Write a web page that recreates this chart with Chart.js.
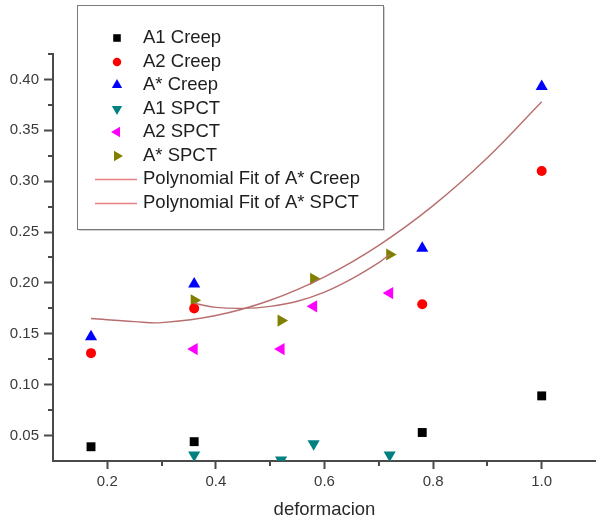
<!DOCTYPE html>
<html>
<head>
<meta charset="utf-8">
<script src="https://cdn.jsdelivr.net/npm/chart.js@4.4.0/dist/chart.umd.min.js"></script>
<style>
    html, body { margin: 0; padding: 0; background: #fff; }
    #wrap { width: 596px; height: 521px; }
</style>
</head>
<body>
<div id="wrap"><canvas id="js-chart" width="596" height="521"></canvas></div>
<script>
// creep samples
const creepX = [0.17, 0.36, 0.78, 1.0];
const a1Creep = [0.039, 0.044, 0.053, 0.089];
const a2Creep = [0.131, 0.175, 0.179, 0.310];
const aStarCreep = [0.147, 0.199, 0.234, 0.393];

// SPCT samples
const spctX = [0.36, 0.52, 0.58, 0.72];
const a1Spct = [0.031, 0.026, 0.042, 0.031];
const a2Spct = [0.135, 0.135, 0.177, 0.190];
const aStarSpct = [0.183, 0.163, 0.204, 0.228];

// fit curves
const fitCreepX = [0.17, 0.25, 0.30, 0.40, 0.50, 0.60, 0.70, 0.80, 0.90, 1.00];
const fitCreepY = [0.165, 0.162, 0.161, 0.168, 0.183, 0.206, 0.237, 0.276, 0.323, 0.378];
const fitSpctX = [0.36, 0.40, 0.45, 0.50, 0.55, 0.60, 0.65, 0.70, 0.72];
const fitSpctY = [0.180, 0.176, 0.175, 0.177, 0.182, 0.191, 0.204, 0.220, 0.228];

// axes
const xTicks = [0.2, 0.4, 0.6, 0.8, 1.0];
const xMinorTicks = [0.3, 0.5, 0.7, 0.9];
const yTicks = [0.05, 0.10, 0.15, 0.20, 0.25, 0.30, 0.35, 0.40];
const yMinorTicks = [0.075, 0.125, 0.175, 0.225, 0.275, 0.325, 0.375, 0.425];

const axisColor = "#4a4a4a";
const fitColor = "rgb(185, 110, 110)";
const fontFamily = '"Liberation Sans", Arial, sans-serif';

function toPoints(xs, ys) {
    var pts = [];
    for (var i = 0; i < xs.length; i++) {
        pts.push({ x: xs[i], y: ys[i] });
    }
    return pts;
}

function markers(label, xs, ys, color, style, rotation, radius) {
    return {
        label: label,
        data: toPoints(xs, ys),
        pointStyle: style,
        pointRotation: rotation,
        pointRadius: radius,
        pointBackgroundColor: color,
        pointBorderColor: color,
        pointBorderWidth: 0,
        backgroundColor: color,
        showLine: false,
        order: 2
    };
}

function fitLine(label, xs, ys) {
    return {
        label: label,
        data: toPoints(xs, ys),
        showLine: true,
        pointRadius: 0,
        borderColor: fitColor,
        borderWidth: 1.4,
        tension: 0.4,
        fill: false,
        order: 1
    };
}

const minorTicks = {
    id: "minorTicks",
    afterDraw(chart) {
        const ctx = chart.ctx;
        const area = chart.chartArea;
        ctx.save();
        ctx.strokeStyle = axisColor;
        ctx.lineWidth = 2;
        ctx.beginPath();
        yMinorTicks.forEach((v) => {
            const py = Math.round(chart.scales.y.getPixelForValue(v));
            ctx.moveTo(area.left - 5, py);
            ctx.lineTo(area.left, py);
        });
        xMinorTicks.forEach((v) => {
            const px = Math.round(chart.scales.x.getPixelForValue(v));
            ctx.moveTo(px, area.bottom);
            ctx.lineTo(px, area.bottom + 5);
        });
        ctx.stroke();
        ctx.restore();
    }
};

const boxLegend = {
    id: "boxLegend",
    afterDraw(chart) {
        const ctx = chart.ctx;
        ctx.save();
        ctx.fillStyle = "#fff";
        ctx.fillRect(77, 5, 306, 224);
        // soft shadow on the right and bottom
        ctx.strokeStyle = "#cfcfcf";
        ctx.lineWidth = 1;
        ctx.beginPath();
        ctx.moveTo(384.5, 7);
        ctx.lineTo(384.5, 230.5);
        ctx.lineTo(79, 230.5);
        ctx.stroke();
        ctx.strokeStyle = "#7a7a7a";
        ctx.strokeRect(77.5, 5.5, 306, 224);

        ctx.font = "18.5px " + fontFamily;
        ctx.textBaseline = "middle";
        chart.data.datasets.forEach((ds, i) => {
            const y = Math.round(38 + i * 23.5);
            if (ds.showLine) {
                ctx.strokeStyle = "rgb(232, 128, 128)";
                ctx.lineWidth = 1.5;
                ctx.beginPath();
                ctx.moveTo(95, y + 0.5);
                ctx.lineTo(137, y + 0.5);
                ctx.stroke();
            } else {
                ctx.fillStyle = ds.pointBackgroundColor;
                Chart.helpers.drawPoint(ctx, {
                    pointStyle: ds.pointStyle,
                    rotation: ds.pointRotation,
                    radius: ds.pointRadius * 0.85,
                    borderWidth: 0
                }, 117, y);
            }
            ctx.fillStyle = "#1e1e1e";
            ctx.fillText(ds.label, 143, y);
        });
        ctx.restore();
    }
};

const ctx = document.getElementById("js-chart");
const chart = new Chart(ctx, {
    type: "scatter",
    data: {
        datasets: [
            markers("A1 Creep", creepX, a1Creep, "#000000", "rect", 0, 6.3),
            markers("A2 Creep", creepX, a2Creep, "#ff0000", "circle", 0, 5),
            markers("A* Creep", creepX, aStarCreep, "#0000ff", "triangle", 0, 7),
            markers("A1 SPCT", spctX, a1Spct, "#008080", "triangle", 180, 7),
            markers("A2 SPCT", spctX, a2Spct, "#ff00ff", "triangle", 270, 7),
            markers("A* SPCT", spctX, aStarSpct, "#808000", "triangle", 90, 7),
            fitLine("Polynomial Fit of A* Creep", fitCreepX, fitCreepY),
            fitLine("Polynomial Fit of A* SPCT", fitSpctX, fitSpctY)
        ]
    },
    options: {
        responsive: false,
        animation: false,
        layout: {
            autoPadding: false,
            padding: { top: 54, right: 0, bottom: 0, left: 0 }
        },
        plugins: {
            legend: { display: false },
            tooltip: { enabled: false }
        },
        scales: {
            x: {
                type: "linear",
                min: 0.1,
                max: 1.1,
                afterBuildTicks: (axis) => {
                    axis.ticks = xTicks.map((v) => ({ value: v }));
                },
                afterFit: (axis) => {
                    axis.height = 60;
                    axis.paddingLeft = 0;
                    axis.paddingRight = 0;
                },
                border: { display: true, color: axisColor, width: 2 },
                grid: {
                    drawOnChartArea: false,
                    drawTicks: true,
                    tickLength: 8,
                    tickColor: axisColor,
                    tickWidth: 2
                },
                ticks: {
                    color: "#3a3a3a",
                    padding: 4,
                    maxRotation: 0,
                    font: { family: fontFamily, size: 15 },
                    callback: function(value) {
                        return Number(value).toFixed(1);
                    }
                },
                title: {
                    display: true,
                    text: "deformacion",
                    color: "#2a2a2a",
                    padding: { top: 0, bottom: 0 },
                    font: { family: fontFamily, size: 18.5 }
                }
            },
            y: {
                type: "linear",
                min: 0.025,
                max: 0.425,
                afterBuildTicks: (axis) => {
                    axis.ticks = yTicks.map((v) => ({ value: v }));
                },
                afterFit: (axis) => {
                    axis.width = 53;
                    axis.paddingTop = 0;
                    axis.paddingBottom = 0;
                },
                border: { display: true, color: axisColor, width: 2 },
                grid: {
                    drawOnChartArea: false,
                    drawTicks: true,
                    tickLength: 9,
                    tickColor: axisColor,
                    tickWidth: 2
                },
                ticks: {
                    color: "#3a3a3a",
                    padding: 5,
                    font: { family: fontFamily, size: 15 },
                    callback: function(value) {
                        return Number(value).toFixed(2);
                    }
                }
            }
        }
    },
    plugins: [minorTicks, boxLegend]
});
</script>
</body>
</html>
